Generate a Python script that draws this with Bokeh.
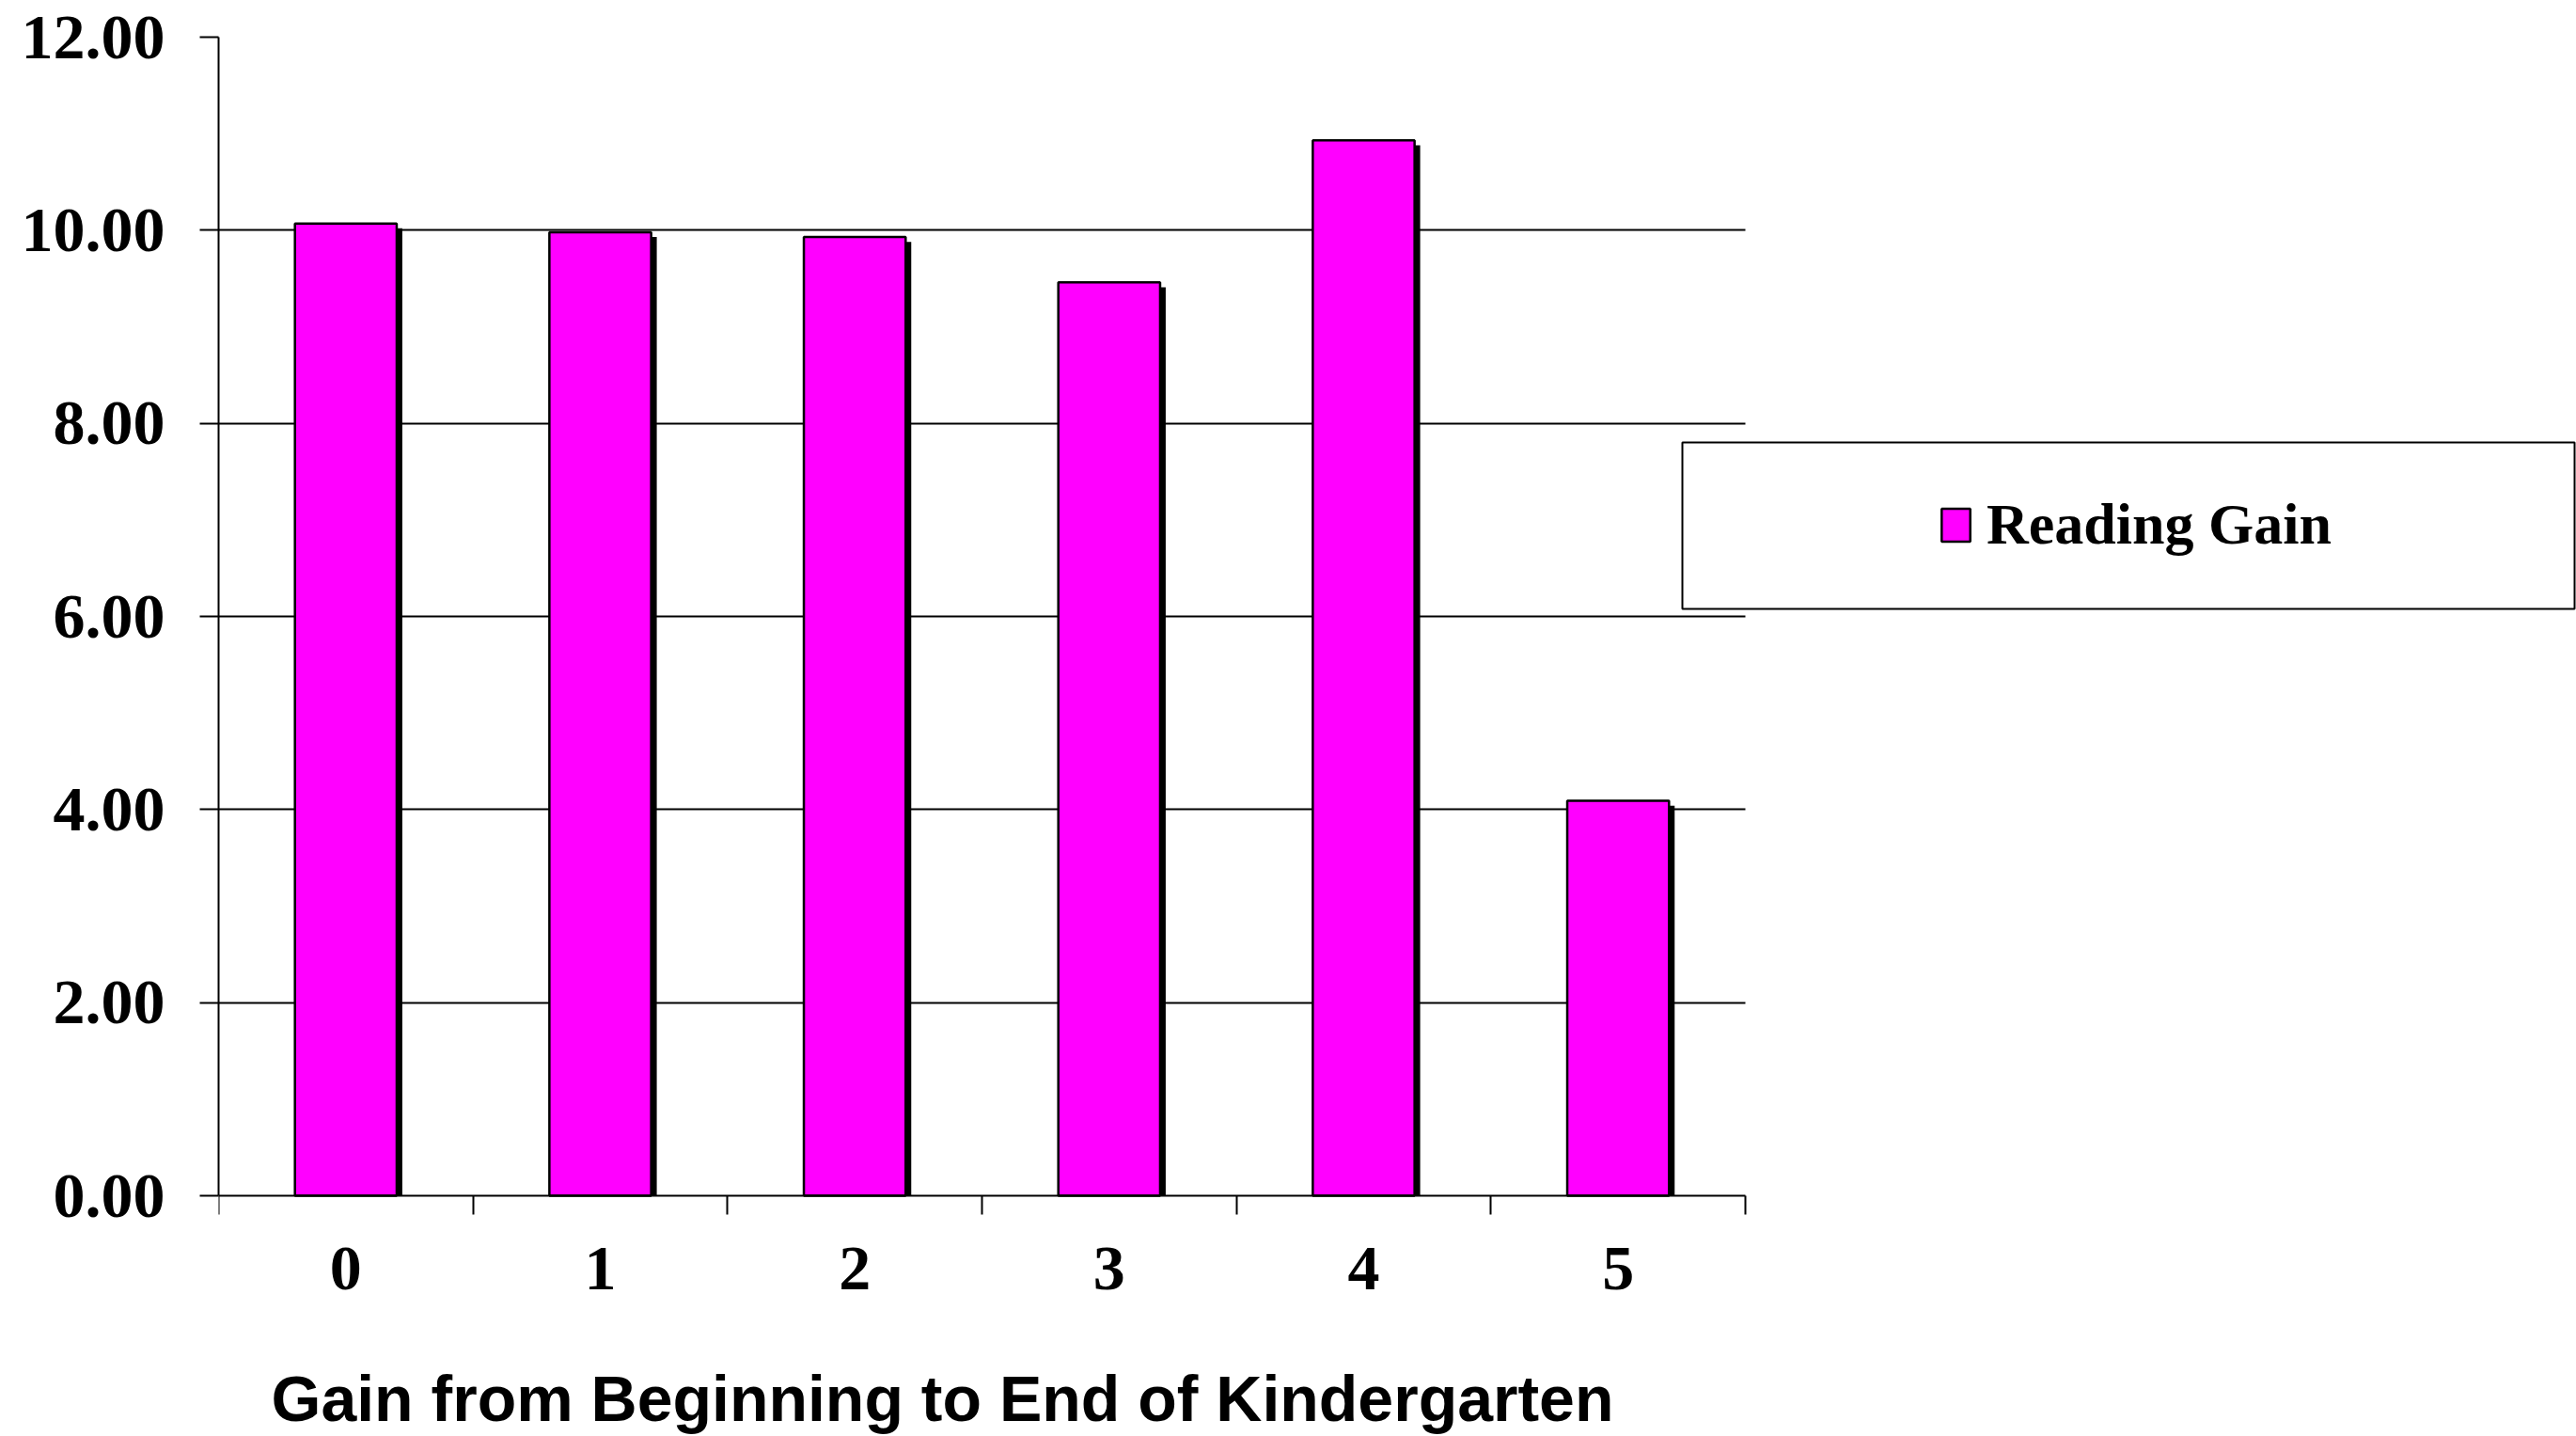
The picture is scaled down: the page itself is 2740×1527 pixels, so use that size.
from bokeh.plotting import figure
from bokeh.models import (Range1d, FixedTicker, Legend, LegendItem, BoxAnnotation,
                          ColumnDataSource, Grid, Label)
from bokeh.transform import dodge
from bokeh.embed import file_html
from bokeh.resources import INLINE

# ---- data ----
categories = ["0", "1", "2", "3", "4", "5"]
reading_gain = [10.07, 9.98, 9.93, 9.46, 10.93, 4.09]
y_ticks = [0, 2, 4, 6, 8, 10, 12]
y_tick_labels = ["0.00", "2.00", "4.00", "6.00", "8.00", "10.00", "12.00"]
series_name = "Reading Gain"
x_title = "Gain from Beginning to End of Kindergarten"

n = len(categories)
y_max = y_ticks[-1]
centers = [i + 0.5 for i in range(n)]
bounds = list(range(n + 1))

src = ColumnDataSource(dict(x=centers, top=reading_gain))

# ---- layout (pixels) ----
W, H = 2740, 1527
FL, FT, FB = 232, 39, 1271          # frame left / top / y=0 baseline
PLOT_W = 1624                       # width of the category area
frame_w = W - FL
x_end = n * frame_w / PLOT_W
px_per_unit = (FB - FT) / y_max
y_start = -(H - FB) / px_per_unit   # frame runs to the canvas bottom

p = figure(width=W, height=H, output_backend="svg", toolbar_location=None,
           x_range=Range1d(0, x_end), y_range=Range1d(y_start, y_max),
           min_border_left=FL, min_border_right=0, min_border_top=FT,
           min_border_bottom=0)
p.outline_line_color = None
p.background_fill_color = "white"
p.border_fill_color = "white"

# grid
p.xgrid.visible = False
if "cross_bounds" in Grid.properties():
    p.ygrid.cross_bounds = (0, n)
    p.ygrid.grid_line_color = "black"
    p.ygrid.grid_line_width = 2
    p.ygrid.ticker = FixedTicker(ticks=y_ticks[1:])
else:
    p.ygrid.visible = False
    p.segment(x0=0, x1=n, y0=y_ticks[1:], y1=y_ticks[1:],
              line_color="black", line_width=2)

# shadow
p.vbar(x=dodge("x", 0.022), top=dodge("top", -0.05), bottom=0, width=0.40,
       source=src, fill_color="black", line_color=None)
bars = p.vbar(x="x", top="top", bottom=0, width=0.40, source=src,
              fill_color="#FF00FF", line_color="black", line_width=2.5)

# y axis
ya = p.yaxis[0]
ya.bounds = (0, y_max)
ya.ticker = FixedTicker(ticks=y_ticks)
ya.major_label_overrides = {t: l for t, l in zip(y_ticks, y_tick_labels)}
ya.axis_line_color = "black"
ya.axis_line_width = 2
ya.major_tick_line_color = "black"
ya.major_tick_line_width = 2
ya.major_tick_out = 20
ya.major_tick_in = 0
ya.minor_tick_out = 0
ya.minor_tick_in = 0
ya.major_label_standoff = 37
ya.major_label_text_font = "Liberation Serif"
ya.major_label_text_font_style = "bold"
ya.major_label_text_font_size = "68px"
ya.major_label_text_color = "black"

# x axis, drawn at y = 0
xa = p.xaxis[0]
xa.fixed_location = 0
xa.bounds = (0, n)
xa.ticker = FixedTicker(ticks=centers, minor_ticks=bounds)
xa.major_label_overrides = {c: l for c, l in zip(centers, categories)}
xa.axis_line_color = "black"
xa.axis_line_width = 2
xa.major_tick_out = 0
xa.major_tick_in = 0
xa.minor_tick_line_color = "black"
xa.minor_tick_line_width = 2
xa.minor_tick_out = 20
xa.minor_tick_in = 0
xa.major_label_standoff = 35
xa.major_label_text_font = "Liberation Serif"
xa.major_label_text_font_style = "bold"
xa.major_label_text_font_size = "68px"
xa.major_label_text_color = "black"

# x axis title
p.add_layout(Label(x=56, y=41, x_units="screen", y_units="screen",
                   text=x_title, text_align="left", text_baseline="middle",
                   text_font="Liberation Sans", text_font_style="bold",
                   text_font_size="68px", text_color="black"))

# legend box
off = H - FB
box = BoxAnnotation(left=1557, right=2506, bottom=624 + off, top=801 + off,
                    left_units="screen", right_units="screen",
                    bottom_units="screen", top_units="screen",
                    fill_color="white", fill_alpha=1.0,
                    line_color="black", line_alpha=1.0, line_width=2)
p.add_layout(box)

legend = Legend(items=[LegendItem(label=series_name, renderers=[bars])],
                location=(1829, 678 + off), orientation="vertical",
                padding=0, margin=0, spacing=0,
                glyph_width=38, glyph_height=44, label_standoff=14,
                label_text_font="Liberation Serif", label_text_font_style="bold",
                label_text_font_size="62px", label_text_color="black",
                border_line_color=None, background_fill_alpha=0)
p.add_layout(legend, "center")

open("out.html", "w").write(file_html(p, INLINE))
